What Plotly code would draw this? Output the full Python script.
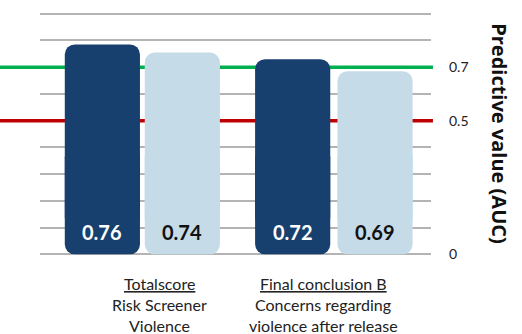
import plotly.graph_objects as go

# Data
categories = ["Totalscore", "Final conclusion B"]
category_sublines = [["Risk Screener", "Violence"],
                     ["Concerns regarding", "violence after release"]]
auc_labels = ["0.76", "0.74", "0.72", "0.69"]
bar_heights = [0.785, 0.755, 0.73, 0.685]   # heights as drawn in the picture
bar_series = ["dark", "light", "dark", "light"]
threshold_good = 0.7
threshold_fair = 0.5
grid_vals = [0, 0.1, 0.2, 0.3, 0.4, 0.6, 0.8, 0.9]
ytick_vals = [0, 0.5, 0.7]
ytick_text = ["0", "0.5", "0.7"]
axis_title = "Predictive value (AUC)"

# Layout / style
x_pos = [0, 1, 2.38, 3.41]
label_x = [0.71, 2.76]
bar_w = 0.94
colors = {"dark": "#17406e", "light": "#c5dce8"}
text_colors = {"dark": "#ffffff", "light": "#111111"}
FONT = "Lato"
low_top = 0.4
up_base = 0.1
y_range = [-0.01, 0.91]

fig = go.Figure()
bar_colors = [colors[s] for s in bar_series]
# lower part (rounded bottom)
fig.add_trace(go.Bar(
    x=x_pos, y=[-low_top] * len(bar_heights), base=[low_top] * len(bar_heights),
    width=bar_w, marker=dict(color=bar_colors, line=dict(width=0)), hoverinfo="skip",
    showlegend=False))
# upper part (rounded top)
fig.add_trace(go.Bar(
    x=x_pos, y=[h - up_base for h in bar_heights], base=[up_base] * len(bar_heights),
    width=bar_w, marker=dict(color=bar_colors, line=dict(width=0)), hoverinfo="skip",
    showlegend=False))

# invisible trace for right axis
fig.add_trace(go.Scatter(x=[x_pos[0]], y=[0], yaxis="y2", mode="markers",
                         marker=dict(opacity=0), hoverinfo="skip", showlegend=False))

annotations = []
for xp, lab, s in zip(x_pos, auc_labels, bar_series):
    annotations.append(dict(x=xp, y=0, xref="x", yref="y", text="<b>%s</b>" % lab,
                            showarrow=False, yanchor="middle", yshift=22,
                            font=dict(family=FONT, size=20, color=text_colors[s])))
shifts = [-29, -50, -71]
for lx, cat, subs in zip(label_x, categories, category_sublines):
    lines = ["<u>%s</u>" % cat] + subs
    for ln, sh in zip(lines, shifts):
        annotations.append(dict(x=lx, y=0, xref="x", yref="y", text=ln, showarrow=False,
                                yanchor="middle", yshift=sh,
                                font=dict(family=FONT, size=16, color="#222222")))
annotations.append(dict(x=1.176, y=0.5, xref="paper", yref="paper", text="<b>%s</b>" % axis_title,
                        textangle=90, showarrow=False, xanchor="center", yanchor="middle",
                        font=dict(family="Open Sans", size=20, color="#111111")))

shapes = [
    dict(type="line", xref="paper", yref="y", x0=-0.103, x1=1.005, y0=threshold_good, y1=threshold_good,
         line=dict(color="#00b050", width=3.5), layer="below"),
    dict(type="line", xref="paper", yref="y", x0=-0.103, x1=1.005, y0=threshold_fair, y1=threshold_fair,
         line=dict(color="#c00000", width=3.5), layer="below"),
]

fig.update_layout(
    width=522, height=334,
    margin=dict(l=40, r=91, t=11, b=77),
    paper_bgcolor="white", plot_bgcolor="white",
    barmode="overlay", barcornerradius=10,
    xaxis=dict(range=[-0.78, 4.11], visible=False, fixedrange=True),
    yaxis=dict(range=y_range, tickvals=grid_vals, showgrid=True, gridcolor="#b4b4b4",
               gridwidth=2, zeroline=False, showticklabels=False, ticks="", showline=False),
    yaxis2=dict(range=y_range, overlaying="y", side="right", tickvals=ytick_vals,
                ticktext=ytick_text, showgrid=False, zeroline=False, ticks="",
                ticklabelstandoff=17,
                tickfont=dict(family=FONT, size=14, color="#222222")),
    annotations=annotations, shapes=shapes,
)

fig.write_html("out.html")
